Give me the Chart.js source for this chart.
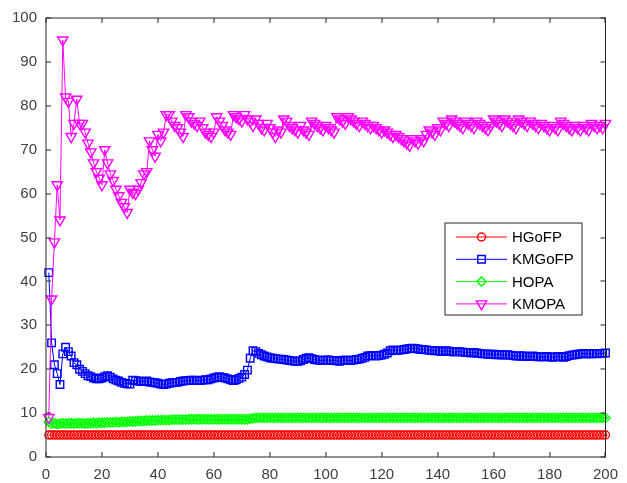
<!DOCTYPE html>
<html>
<head>
<meta charset="utf-8">
<script src="https://cdn.jsdelivr.net/npm/chart.js@4/dist/chart.umd.min.js"></script>
<style>
  html, body { margin: 0; padding: 0; background: #fff; }
  #wrap { width: 627px; height: 483px; position: relative; }
</style>
</head>
<body>
<div id="wrap"><canvas id="chart"></canvas></div>
<script>
// values, one per iteration 1..200
const seriesNames = ["HGoFP", "KMGoFP", "HOPA", "KMOPA"];
const xTicks = [0, 20, 40, 60, 80, 100, 120, 140, 160, 180, 200];
const yTicks = [0, 10, 20, 30, 40, 50, 60, 70, 80, 90, 100];

const hgofp = [
  5, 5, 5, 5, 5, 5, 5, 5, 5, 5, 5, 5, 5, 5, 5, 5, 5, 5, 5, 5,
  5, 5, 5, 5, 5, 5, 5, 5, 5, 5, 5, 5, 5, 5, 5, 5, 5, 5, 5, 5,
  5, 5, 5, 5, 5, 5, 5, 5, 5, 5, 5, 5, 5, 5, 5, 5, 5, 5, 5, 5,
  5, 5, 5, 5, 5, 5, 5, 5, 5, 5, 5, 5, 5, 5, 5, 5, 5, 5, 5, 5,
  5, 5, 5, 5, 5, 5, 5, 5, 5, 5, 5, 5, 5, 5, 5, 5, 5, 5, 5, 5,
  5, 5, 5, 5, 5, 5, 5, 5, 5, 5, 5, 5, 5, 5, 5, 5, 5, 5, 5, 5,
  5, 5, 5, 5, 5, 5, 5, 5, 5, 5, 5, 5, 5, 5, 5, 5, 5, 5, 5, 5,
  5, 5, 5, 5, 5, 5, 5, 5, 5, 5, 5, 5, 5, 5, 5, 5, 5, 5, 5, 5,
  5, 5, 5, 5, 5, 5, 5, 5, 5, 5, 5, 5, 5, 5, 5, 5, 5, 5, 5, 5,
  5, 5, 5, 5, 5, 5, 5, 5, 5, 5, 5, 5, 5, 5, 5, 5, 5, 5, 5, 5
];

const kmgofp = [
  42, 26, 21, 19, 16.5, 23.5, 25, 24, 23, 21.5,
  21, 20, 19.5, 19, 18.5, 18.3, 18, 17.8, 17.8, 18,
  18.3, 18.5, 18.2, 17.8, 17.5, 17.3, 17, 16.8, 16.7, 16.6,
  17.5, 17.4, 17.3, 17.2, 17.2, 17.3, 17.1, 17, 16.9, 16.8,
  16.6, 16.5, 16.6, 16.8, 16.9, 17, 17, 17.2, 17.3, 17.4,
  17.4, 17.5, 17.5, 17.4, 17.4, 17.5, 17.6, 17.6, 17.8, 18,
  18.2, 18.3, 18.1, 18, 17.8, 17.6, 17.4, 17.6, 17.9, 18.2,
  18.8, 19.8, 22.5, 24.2, 24, 23.6, 23.3, 23, 22.8, 22.6,
  22.5, 22.4, 22.3, 22.3, 22.2, 22.1, 22, 21.9, 21.8, 21.8,
  21.9, 22.2, 22.5, 22.6, 22.4, 22.2, 22.1, 22, 22, 22.1,
  22.1, 22, 22, 21.9, 21.8, 22, 22.1, 22, 22, 22.1,
  22.2, 22.3, 22.5, 22.7, 23, 23.1, 23.1, 23, 23.1, 23.2,
  23.4, 23.7, 24.2, 24.4, 24.3, 24.3, 24.4, 24.5, 24.6, 24.7,
  24.8, 24.7, 24.6, 24.5, 24.5, 24.4, 24.3, 24.3, 24.2, 24.2,
  24.1, 24.1, 24.2, 24.1, 24, 23.9, 24, 24, 23.9, 23.8,
  23.8, 23.7, 23.8, 23.7, 23.6, 23.5, 23.5, 23.4, 23.4, 23.4,
  23.3, 23.3, 23.3, 23.2, 23.3, 23.2, 23.1, 23, 23, 23,
  23, 22.9, 22.9, 23, 22.9, 22.8, 22.8, 22.8, 22.9, 22.8,
  22.7, 22.8, 22.9, 22.8, 22.7, 22.9, 23.1, 23.2, 23.3, 23.4,
  23.5, 23.6, 23.5, 23.5, 23.5, 23.6, 23.5, 23.6, 23.6, 23.7
];

const hopa = [
  8, 7.6, 7.7, 7.5, 7.6, 7.7, 7.6, 7.7, 7.7, 7.6,
  7.7, 7.7, 7.7, 7.6, 7.7, 7.7, 7.8, 7.7, 7.8, 7.8,
  7.8, 7.9, 7.9, 7.9, 8, 7.9, 8, 8, 8, 8.1,
  8.1, 8.1, 8.2, 8.2, 8.2, 8.3, 8.3, 8.3, 8.3, 8.4,
  8.4, 8.4, 8.4, 8.4, 8.5, 8.5, 8.5, 8.5, 8.5, 8.5,
  8.6, 8.6, 8.6, 8.6, 8.6, 8.6, 8.6, 8.6, 8.6, 8.6,
  8.6, 8.6, 8.6, 8.6, 8.6, 8.6, 8.6, 8.6, 8.6, 8.6,
  8.6, 8.6, 8.7, 8.8, 8.9, 8.9, 8.9, 8.9, 8.9, 8.9,
  8.9, 8.9, 8.9, 8.9, 8.9, 8.9, 8.9, 8.9, 8.9, 8.9,
  8.9, 8.9, 8.9, 8.9, 8.9, 8.9, 8.9, 8.9, 8.9, 8.9,
  8.9, 8.9, 8.9, 8.9, 8.9, 8.9, 8.9, 8.9, 8.9, 8.9,
  8.9, 8.9, 8.9, 8.9, 8.9, 8.9, 8.9, 8.9, 8.9, 8.9,
  8.9, 8.9, 8.9, 8.9, 8.9, 8.9, 8.9, 8.9, 8.9, 8.9,
  8.9, 8.9, 8.9, 8.9, 8.9, 8.9, 8.9, 8.9, 8.9, 8.9,
  8.9, 8.9, 8.9, 8.9, 8.9, 8.9, 8.9, 8.9, 8.9, 8.9,
  8.9, 8.9, 8.9, 8.9, 8.9, 8.9, 8.9, 8.9, 8.9, 8.9,
  8.9, 8.9, 8.9, 8.9, 8.9, 8.9, 8.9, 8.9, 8.9, 8.9,
  8.9, 8.9, 8.9, 8.9, 8.9, 8.9, 8.9, 8.9, 8.9, 8.9,
  8.9, 8.9, 8.9, 8.9, 8.9, 8.9, 8.9, 8.9, 8.9, 8.9,
  8.9, 8.9, 8.9, 8.9, 8.9, 8.9, 8.9, 8.9, 8.9, 8.9
];

const kmopa = [
  9, 36, 49, 62, 54, 95, 82, 81, 73, 76,
  81.5, 76, 76, 74, 71.5, 69.5, 67, 65, 63.5, 62,
  70, 67, 64.5, 63, 61, 59.5, 58, 57, 55.7, 61,
  60.3, 60, 61, 62.5, 64.5, 65, 72, 70, 68.5, 73.5,
  72, 74, 78, 78, 76.5, 75.5, 75, 74, 73, 78,
  77.5, 76.5, 76, 75.5, 76.5, 75, 74, 73.5, 73, 74,
  77.5, 76.5, 75.5, 74.5, 74, 73.5, 78, 77.5, 77, 76.5,
  78, 77, 76.5, 75.5, 77, 76, 75, 74.5, 76, 75,
  74, 73, 74.5, 74, 77, 76.5, 75.5, 75, 74.5, 74,
  75.5, 74.5, 74, 73.5, 76.5, 76, 75.5, 75, 74.5, 75.5,
  75, 74.5, 74, 77.5, 77, 76.5, 76, 77.5, 77, 76.5,
  76, 75.5, 76.5, 76, 75.5, 75, 75.5, 75, 74.5, 74,
  74.5, 74, 73.5, 73, 73.5, 73, 72.5, 72, 71.5, 71,
  72.5, 72, 71.5, 72.5, 72, 73.5, 74.5, 74, 73.5, 75,
  74.5, 76.5, 76, 75.5, 77, 76.5, 76, 75.5, 75, 76.5,
  76, 75.5, 75, 76.5, 76, 75.5, 75, 74.5, 75.5, 77,
  76.5, 76, 75.5, 77, 76.5, 76, 75.5, 75, 77, 76.5,
  76, 75.5, 76.5, 76, 75.5, 75, 76, 75.5, 75, 74.5,
  75.5, 75, 74.5, 76.5, 76, 75.5, 75, 74.5, 75.5, 75,
  74.5, 75.5, 75, 74.5, 76, 75.5, 75, 75.5, 75, 76
];

const axisColor = "#262626";
const fontFamily = "'Liberation Sans', Arial, Helvetica, sans-serif";

// x is the iteration number, 1..200
function toPoints(values) {
  return values.map((v, i) => ({ x: i + 1, y: v }));
}

const styles = [
  { color: "#ff0000", pointStyle: "circle", radius: 4, rotation: 0 },
  { color: "#0000ff", pointStyle: "rect", radius: 5.3, rotation: 0 },
  { color: "#00ff00", pointStyle: "rectRot", radius: 4.7, rotation: 0 },
  { color: "#ff00ff", pointStyle: "triangle", radius: 6, rotation: 180 }
];
const allValues = [hgofp, kmgofp, hopa, kmopa];

const datasets = seriesNames.map((name, i) => ({
  label: name,
  data: toPoints(allValues[i]),
  borderColor: styles[i].color,
  backgroundColor: "transparent",
  borderWidth: 1,
  pointStyle: styles[i].pointStyle,
  pointRadius: styles[i].radius,
  pointRotation: styles[i].rotation,
  pointBorderColor: styles[i].color,
  pointBackgroundColor: "transparent",
  pointBorderWidth: 1.4,
  tension: 0,
  clip: false,
  order: 4 - i   // later series drawn on top, like MATLAB
}));

// box, inward ticks and legend in MATLAB style
const matlabAxes = {
  id: "matlabAxes",
  afterDraw(chart) {
    const ctx = chart.ctx;
    const a = chart.chartArea;
    const xs = chart.scales.x, ys = chart.scales.y;
    const tl = 5;
    ctx.save();
    ctx.strokeStyle = axisColor;
    ctx.lineWidth = 1;
    ctx.strokeRect(a.left, a.top, a.right - a.left, a.bottom - a.top);
    ctx.beginPath();
    xs.ticks.forEach(t => {
      const px = Math.round(xs.getPixelForValue(t.value));
      ctx.moveTo(px, a.bottom); ctx.lineTo(px, a.bottom - tl);
      ctx.moveTo(px, a.top); ctx.lineTo(px, a.top + tl);
    });
    ys.ticks.forEach(t => {
      const py = Math.round(ys.getPixelForValue(t.value));
      ctx.moveTo(a.left, py); ctx.lineTo(a.left + tl, py);
      ctx.moveTo(a.right, py); ctx.lineTo(a.right - tl, py);
    });
    ctx.stroke();

    // legend
    const lx = 445, ly = 223, lw = 137, lh = 92;
    ctx.fillStyle = "#ffffff";
    ctx.fillRect(lx, ly, lw, lh);
    ctx.strokeRect(lx, ly, lw, lh);
    ctx.font = "15px " + fontFamily;
    ctx.textBaseline = "middle";
    chart.data.datasets.forEach((ds, i) => {
      const cy = ly + 14 + i * 22.3;
      ctx.strokeStyle = ds.borderColor;
      ctx.lineWidth = 1;
      ctx.beginPath();
      ctx.moveTo(456, cy); ctx.lineTo(507, cy);
      ctx.stroke();
      ctx.fillStyle = "transparent";
      ctx.lineWidth = 1.4;
      Chart.helpers.drawPoint(ctx, {
        pointStyle: ds.pointStyle, radius: ds.pointRadius,
        rotation: ds.pointRotation, borderWidth: 1.4
      }, 481.5, cy);
      ctx.fillStyle = "#000000";
      ctx.fillText(ds.label, 512, cy + 1);
    });
    ctx.restore();
  }
};

new Chart(document.getElementById("chart"), {
  type: "line",
  data: { datasets: datasets },
  options: {
    responsive: true,
    maintainAspectRatio: false,
    animation: false,
    events: [],
    layout: { padding: { left: 0, top: 14, right: 21, bottom: 0 } },
    plugins: { legend: { display: false }, tooltip: { enabled: false } },
    scales: {
      x: {
        type: "linear",
        min: xTicks[0],
        max: xTicks[xTicks.length - 1],
        afterBuildTicks: s => { s.ticks = xTicks.map(v => ({ value: v })); },
        afterFit: s => { s.height = 26; },
        grid: { display: false, drawTicks: false },
        border: { display: false },
        ticks: { color: "#404040", padding: 9, maxRotation: 0, font: { family: fontFamily, size: 15 } }
      },
      y: {
        type: "linear",
        min: yTicks[0],
        max: yTicks[yTicks.length - 1],
        afterBuildTicks: s => { s.ticks = yTicks.map(v => ({ value: v })); },
        afterFit: s => { s.width = 46; },
        grid: { display: false, drawTicks: false },
        border: { display: false },
        ticks: { color: "#404040", padding: 9, font: { family: fontFamily, size: 15 } }
      }
    }
  },
  plugins: [matlabAxes]
});
</script>
</body>
</html>
